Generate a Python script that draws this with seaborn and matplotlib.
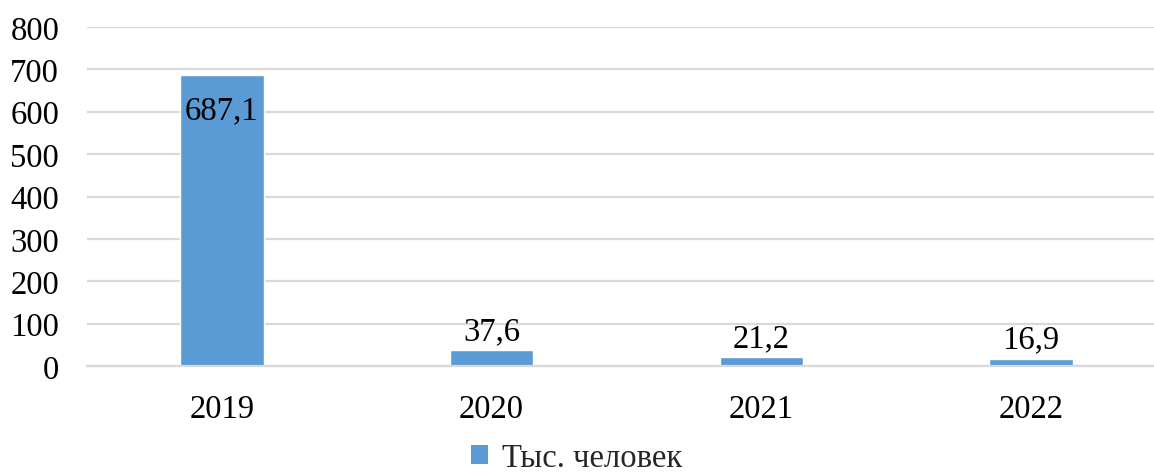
import matplotlib
matplotlib.use("Agg")
import matplotlib.pyplot as plt
import seaborn as sns
import pandas as pd
from matplotlib.patches import Patch

years = ["2019", "2020", "2021", "2022"]
values = [687.1, 37.6, 21.2, 16.9]
labels = ["687,1", "37,6", "21,2", "16,9"]
series_name = "Тыс. человек"
yticks = [0, 100, 200, 300, 400, 500, 600, 700, 800]

bar_color = "#5B9BD5"
grid_color = "#D9D9D9"

sns.set_theme(style="white")
plt.rcParams["font.family"] = ["Liberation Serif", "DejaVu Serif"]

df = pd.DataFrame({"year": years, "value": values})

fig = plt.figure(figsize=(11.54, 4.77), dpi=100)
ax = fig.add_axes([87 / 1154, 1 - 367 / 477, (1166 - 87) / 1154, (367 - 28) / 477])

sns.barplot(data=df, x="year", y="value", color=bar_color, width=0.31,
            saturation=1, ax=ax, zorder=3)

ax.set_ylim(0, 800)
ax.set_yticks(yticks)
ax.set_yticklabels([str(t) for t in yticks])
ax.yaxis.grid(True, color=grid_color, linewidth=1.6, zorder=0)
ax.set_axisbelow(True)
for side in ["top", "right", "left"]:
    ax.spines[side].set_visible(False)
ax.spines["bottom"].set_color(grid_color)
ax.spines["bottom"].set_linewidth(1.6)
ax.spines["bottom"].set_zorder(4)
ax.tick_params(axis="both", length=0, labelsize=23.5, colors="black")
ax.tick_params(axis="y", pad=20)
ax.tick_params(axis="x", pad=20)
ax.set_xlabel("")
ax.set_ylabel("")

for i, (v, lab) in enumerate(zip(values, labels)):
    if v > 400:
        ax.annotate(lab, (i, v), xytext=(0, -14), textcoords="offset points",
                    ha="center", va="top", fontsize=23.5, color="black", zorder=5)
    else:
        ax.annotate(lab, (i, v), xytext=(0, 3), textcoords="offset points",
                    ha="center", va="bottom", fontsize=23.5, color="black", zorder=5)

handle = Patch(facecolor=bar_color, edgecolor="none", label=series_name)
fig.legend(handles=[handle], loc="center", bbox_to_anchor=(577 / 1154, 1 - 459 / 477),
           frameon=False, fontsize=23.5, handlelength=0.5, handleheight=0.5,
           handletextpad=0.45, borderaxespad=0, borderpad=0)

fig.savefig("out.png", dpi=100)
